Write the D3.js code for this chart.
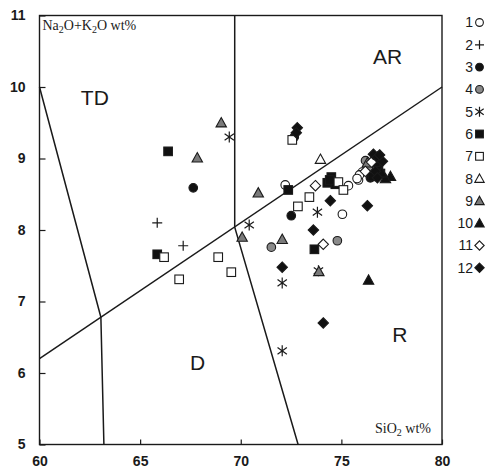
<!DOCTYPE html>
<html>
<head>
<meta charset="utf-8">
<script src="https://cdn.jsdelivr.net/npm/d3@7"></script>
<style>
  html, body { margin: 0; padding: 0; background: #fff; }
  svg { display: block; }
</style>
</head>
<body>
<svg id="chart" width="488" height="470"></svg>
<script>
// TAS-style discrimination diagram: SiO2 vs Na2O+K2O (wt%)
const xTicks = [60, 65, 70, 75, 80];
const yTicks = [5, 6, 7, 8, 9, 10, 11];
const legendLabels = ["1", "2", "3", "4", "5", "6", "7", "8", "9", "10", "11", "12"];

// field boundaries as [SiO2, Na2O+K2O] polylines
const boundaryTD = [[60, 10], [63.05, 6.78], [63.2, 5]];
const boundarySloped = [[60, 6.2], [80, 10]];
const boundaryCenter = [[69.7, 11], [69.7, 8.04], [72.85, 5]];

// sample groups: [SiO2, Na2O+K2O]
const group1 = [[72.21, 8.63], [75.35, 8.62], [75.85, 8.70], [75.05, 8.22], [76.04, 8.81], [75.90, 8.77], [75.78, 8.72]];
const group2 = [[65.85, 8.10], [67.14, 7.78]];
const group3 = [[67.64, 8.59], [72.51, 8.20], [72.66, 9.30], [76.44, 8.73]];
const group4 = [[71.52, 7.76], [74.80, 7.85], [76.34, 8.87], [76.20, 8.97]];
const group5 = [[69.43, 9.30], [70.42, 8.07], [73.81, 8.25], [72.06, 7.26], [72.06, 6.31], [73.86, 7.43]];
const group6 = [[66.39, 9.10], [65.85, 7.66], [72.36, 8.56], [73.66, 7.73], [74.30, 8.66], [74.50, 8.74], [74.70, 8.64], [74.42, 8.70], [76.54, 8.75], [76.84, 8.88], [76.94, 8.79], [76.70, 8.95]];
const group7 = [[66.19, 7.62], [66.94, 7.31], [68.88, 7.62], [69.53, 7.41], [72.56, 9.26], [72.84, 8.33], [73.41, 8.46], [74.85, 8.67], [75.10, 8.56]];
const group8 = [[73.96, 8.99]];
const group9 = [[67.84, 9.01], [69.03, 9.50], [70.07, 7.90], [70.87, 8.52], [72.06, 7.87], [73.88, 7.42], [76.29, 8.94]];
const group10 = [[76.35, 7.30], [77.44, 8.75], [77.19, 8.72], [77.00, 8.80]];
const group11 = [[73.71, 8.62], [74.10, 7.80], [76.19, 8.82], [76.50, 8.95]];
const group12 = [[72.81, 9.43], [72.76, 9.36], [73.61, 8.00], [74.45, 8.41], [76.29, 8.34], [72.06, 7.48], [74.10, 6.70], [76.59, 9.06], [76.79, 9.02], [76.69, 8.82], [77.04, 8.96], [76.79, 8.73], [76.90, 9.05]];

const groups = [group1, group2, group3, group4, group5, group6, group7, group8, group9, group10, group11, group12];

// marker style per group
const styles = [
  { shape: "circle", fill: "#fff" },
  { shape: "plus" },
  { shape: "circle", fill: "#111" },
  { shape: "circle", fill: "#8a8a8a" },
  { shape: "asterisk" },
  { shape: "square", fill: "#111" },
  { shape: "square", fill: "#fff" },
  { shape: "triangle", fill: "#fff" },
  { shape: "triangle", fill: "#7a7a7a" },
  { shape: "triangle", fill: "#111" },
  { shape: "diamond", fill: "#fff" },
  { shape: "diamond", fill: "#111" }
];

const svg = d3.select("#chart");
const ink = "#1a1a1a";
const sans = "Liberation Sans, Arial, sans-serif";
const serif = "Liberation Serif, Times New Roman, serif";

const x = d3.scaleLinear().domain([60, 80]).range([39.5, 442]);
const y = d3.scaleLinear().domain([5, 11]).range([444.5, 15.5]);

// frame
svg.append("rect")
  .attr("x", x(60)).attr("y", y(11))
  .attr("width", x(80) - x(60)).attr("height", y(5) - y(11))
  .attr("fill", "none").attr("stroke", ink).attr("stroke-width", 1.4);

// axes with inward ticks
const xAxis = d3.axisBottom(x).tickValues(xTicks).tickFormat(d3.format("d"))
  .tickSizeInner(-5).tickSizeOuter(0).tickPadding(12);
const gx = svg.append("g").attr("transform", `translate(0,${y(5)})`).call(xAxis);
const yAxis = d3.axisLeft(y).tickValues(yTicks).tickFormat(d3.format("d"))
  .tickSizeInner(-6).tickSizeOuter(0).tickPadding(14);
const gy = svg.append("g").attr("transform", `translate(${x(60)},0)`).call(yAxis);
[gx, gy].forEach(g => {
  g.select(".domain").remove();
  g.selectAll(".tick line").attr("stroke", ink).attr("stroke-width", 1.2);
  g.selectAll(".tick text")
    .attr("fill", ink)
    .style("font-family", sans)
    .style("font-size", "14px")
    .style("font-weight", "bold");
});
gx.selectAll(".tick text").attr("dy", "0.71em");

// field boundaries
const line = d3.line().x(d => x(d[0])).y(d => y(d[1]));
[boundaryTD, boundarySloped, boundaryCenter].forEach(b => {
  svg.append("path").attr("d", line(b))
    .attr("fill", "none").attr("stroke", ink).attr("stroke-width", 1.5);
});

// field names
[["TD", 62.75, 9.75], ["AR", 77.3, 10.32], ["D", 67.85, 6.04], ["R", 77.9, 6.43]].forEach(([t, sx, sy]) => {
  svg.append("text").attr("x", x(sx)).attr("y", y(sy))
    .attr("text-anchor", "middle")
    .style("font-family", sans).style("font-size", "21px")
    .attr("fill", ink).text(t);
});

// axis titles inside the frame
const yTitle = svg.append("text").attr("x", x(60) + 3).attr("y", 30)
  .style("font-family", serif).style("font-size", "14px").attr("fill", ink);
yTitle.append("tspan").text("Na");
yTitle.append("tspan").attr("dy", 3).style("font-size", "10px").text("2");
yTitle.append("tspan").attr("dy", -3).text("O+K");
yTitle.append("tspan").attr("dy", 3).style("font-size", "10px").text("2");
yTitle.append("tspan").attr("dy", -3).text("O wt%");

const xTitle = svg.append("text").attr("x", 431).attr("y", 433).attr("text-anchor", "end")
  .style("font-family", serif).style("font-size", "14px").attr("fill", ink);
xTitle.append("tspan").text("SiO");
xTitle.append("tspan").attr("dy", 3).style("font-size", "10px").text("2");
xTitle.append("tspan").attr("dy", -3).text(" wt%");

// marker drawing
function drawMarker(g, st, cx, cy, scale) {
  const s = scale || 1;
  const sw = 1.1;
  if (st.shape === "circle") {
    g.append("circle").attr("cx", cx).attr("cy", cy).attr("r", 4.3 * s)
      .attr("fill", st.fill).attr("stroke", ink).attr("stroke-width", sw);
  } else if (st.shape === "square") {
    const h = 4.3 * s;
    g.append("rect").attr("x", cx - h).attr("y", cy - h).attr("width", 2 * h).attr("height", 2 * h)
      .attr("fill", st.fill).attr("stroke", ink).attr("stroke-width", sw);
  } else if (st.shape === "triangle") {
    const h = 5.2 * s;
    g.append("path")
      .attr("d", `M${cx},${cy - h}L${cx + h},${cy + h * 0.8}L${cx - h},${cy + h * 0.8}Z`)
      .attr("fill", st.fill).attr("stroke", ink).attr("stroke-width", sw);
  } else if (st.shape === "diamond") {
    const h = 5.2 * s;
    g.append("path")
      .attr("d", `M${cx},${cy - h}L${cx + h},${cy}L${cx},${cy + h}L${cx - h},${cy}Z`)
      .attr("fill", st.fill).attr("stroke", ink).attr("stroke-width", sw);
  } else if (st.shape === "plus") {
    const h = 5 * s;
    g.append("path").attr("d", `M${cx - h},${cy}H${cx + h}M${cx},${cy - h}V${cy + h}`)
      .attr("stroke", ink).attr("stroke-width", 1.2).attr("fill", "none");
  } else if (st.shape === "asterisk") {
    const h = 5.5 * s, dx = h * 0.85, dy = h * 0.6;
    g.append("path")
      .attr("d", `M${cx},${cy - h}V${cy + h}M${cx - dx},${cy - dy}L${cx + dx},${cy + dy}M${cx - dx},${cy + dy}L${cx + dx},${cy - dy}`)
      .attr("stroke", ink).attr("stroke-width", 1.2).attr("fill", "none");
  }
}

const pts = svg.append("g");
groups.forEach((data, i) => {
  data.forEach(d => drawMarker(pts, styles[i], x(d[0]), y(d[1])));
});

// legend
const leg = svg.append("g");
legendLabels.forEach((lab, i) => {
  const cy = 22.5 + i * 22.3;
  leg.append("text").attr("x", 473).attr("y", cy).attr("dy", "0.35em")
    .attr("text-anchor", "end")
    .style("font-family", sans).style("font-size", "14px")
    .attr("fill", ink).text(lab);
  drawMarker(leg, styles[i], 479.5, cy, 0.9);
});
</script>
</body>
</html>
